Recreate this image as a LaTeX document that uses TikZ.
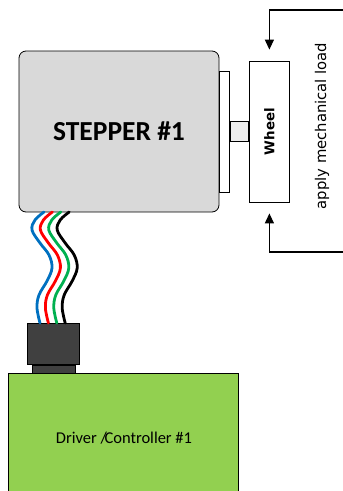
\documentclass[tikz,border=0pt]{standalone}
\usepackage{fontspec}
\setmainfont{Carlito}
\newfontfamily\dejavu{DejaVu Sans}
\usetikzlibrary{positioning,arrows.meta}
\definecolor{motorgray}{HTML}{D9D9D9}
\definecolor{shaftgray}{HTML}{EDEDED}
\definecolor{plugdark}{HTML}{404040}
\definecolor{boardgreen}{HTML}{92D050}
\definecolor{wireblue}{HTML}{0070C0}
\definecolor{wirered}{HTML}{FF0000}
\definecolor{wiregreen}{HTML}{00B050}
\tikzstyle{part} = [rectangle, draw=black, line width=0.8pt, inner sep=0pt]
\tikzstyle{load} = [line width=1.2pt, -{Triangle[length=10pt,width=9pt]}, shorten >=11pt]

\begin{document}
\begin{tikzpicture}[x=1pt,y=-1pt,
			wire/.style={line width=2.8pt, line cap=round},
		]
		\useasboundingbox (0,0) rectangle (343,491);
		\clip (0,0) rectangle (343,491);

		% Driver board
		\node[part, fill=boardgreen, minimum width=230pt, minimum height=130pt, anchor=north west] (driver) at (8,373) {};
		\node[font=\fontsize{16.5}{19}\selectfont] (drivertext) at (124,438) {Driver /\hspace{-0.15em}Controller \#1};

		% Plug
		\node[part, fill=plugdark, minimum width=43pt, minimum height=8pt, anchor=north] (plugbase) at (53.5,365) {};
		\node[part, fill=plugdark, minimum width=52pt, minimum height=41pt, anchor=south] (plug) at (plugbase.north) {};

		% Stepper motor
		\node[part, fill=motorgray, rounded corners=7pt, minimum width=200pt, minimum height=161pt,
			font=\bfseries\fontsize{27.5}{30}\selectfont] (stepper) at (119,131.5) {STEPPER \#1};
		\node[part, fill=white, minimum width=10pt, minimum height=121pt, anchor=west] (flange) at (stepper.east) {};
		\node[part, fill=shaftgray, minimum width=18pt, minimum height=20pt, anchor=west] (shaft) at (flange.east) {};

		% Wheel
		\node[part, fill=white, minimum width=40pt, minimum height=141pt, anchor=west] (wheel) at (shaft.east) {};
		\node[rotate=90, font=\dejavu\bfseries\fontsize{13.4}{15}\selectfont] (wheeltext) at (wheel.center) {Wheel};

		% Wires
		\foreach \wcol [count=\i from 0] in {wireblue,wirered,wiregreen,black} {
			\draw[wire, \wcol, xshift=\i*8.4pt] plot[smooth, tension=0.6] coordinates
				{(44,212) (35,220) (32,230) (40,243) (49,255) (52,268) (47,281) (39,295) (37,308) (40,323)};
		}

		% Mechanical load
		\coordinate (loadtop) at (344,10);
		\coordinate (loadbottom) at (344,252);
		\draw[load] (loadtop) -| (wheel.north);
		\draw[load] (loadbottom) -| (wheel.south);
		\node[rotate=90, font=\dejavu\fontsize{14.8}{17}\selectfont] (loadtext) at (322,126) {apply mechanical load};
	\end{tikzpicture}
\end{document}
